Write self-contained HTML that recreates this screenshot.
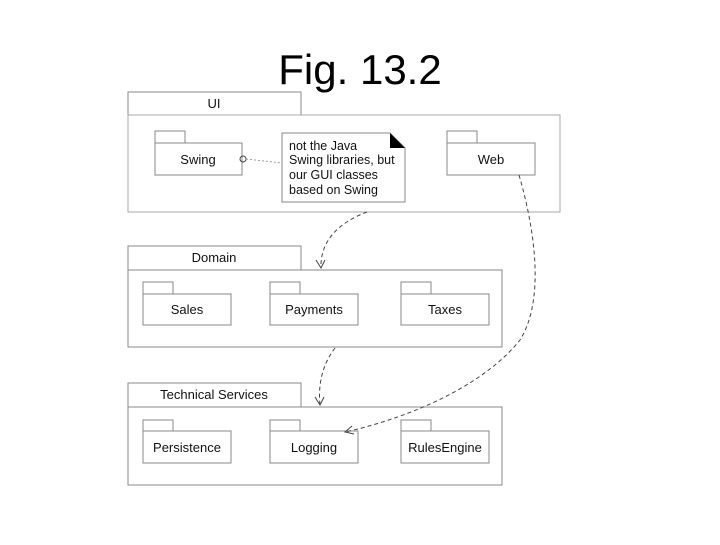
<!DOCTYPE html>
<html><head><style>
body{margin:0;background:#fff;width:720px;height:540px;overflow:hidden}
</style></head><body>
<svg width="720" height="540" xmlns="http://www.w3.org/2000/svg" font-family="Liberation Sans, sans-serif">
<text x="360" y="84" text-anchor="middle" font-size="42">Fig. 13.2</text>
<g fill="#fff" stroke="#888" stroke-width="1">
<!-- UI -->
<rect x="128" y="92" width="173" height="23"/>
<rect x="128" y="115" width="432" height="97" stroke="#aaa"/>
<rect x="155" y="131" width="30" height="12"/><rect x="155" y="143" width="87" height="32"/>
<rect x="447" y="131" width="30" height="12"/><rect x="447" y="143" width="88" height="32"/>
<path d="M282 133 H390 L405 148 V202 H282 Z"/>
<!-- Domain -->
<rect x="128" y="246" width="173" height="24"/>
<rect x="128" y="270" width="374" height="77"/>
<rect x="143" y="282" width="30" height="12"/><rect x="143" y="294" width="88" height="31"/>
<rect x="270" y="282" width="30" height="12"/><rect x="270" y="294" width="88" height="31"/>
<rect x="401" y="282" width="30" height="12"/><rect x="401" y="294" width="88" height="31"/>
<!-- Tech -->
<rect x="128" y="383" width="173" height="24"/>
<rect x="128" y="407" width="374" height="78"/>
<rect x="143" y="420" width="30" height="11"/><rect x="143" y="431" width="88" height="32"/>
<rect x="270" y="420" width="30" height="11"/><rect x="270" y="431" width="88" height="32"/>
<rect x="401" y="420" width="30" height="11"/><rect x="401" y="431" width="88" height="32"/>
</g>
<path d="M390 133 L405 148 H390 Z" fill="#000"/>
<g fill="none" stroke="#444" stroke-width="1" stroke-dasharray="4,3">
<path d="M367 212 C340 222 320 240 321 268"/>
<path d="M335 348 C322 365 318 385 320 405"/>
<path d="M519 175 C535 230 545 300 520 340 C480 390 400 420 345 432"/>
</g>
<g fill="none" stroke="#444" stroke-width="1">
<path d="M316 260 L321 268 L325 260"/>
<path d="M315 397 L320 405 L324 397"/>
<path d="M352 426 L345 432 L354 434"/>
<circle cx="243" cy="159" r="3"/>
</g>
<path d="M246 159 L282 163" stroke="#999" stroke-dasharray="2,2"/>
<g font-size="13" fill="#111" text-anchor="middle">
<text x="214" y="108">UI</text>
<text x="198" y="164">Swing</text>
<text x="491" y="164">Web</text>
<text x="214" y="262">Domain</text>
<text x="187" y="314">Sales</text>
<text x="314" y="314">Payments</text>
<text x="445" y="314">Taxes</text>
<text x="214" y="399">Technical Services</text>
<text x="187" y="452">Persistence</text>
<text x="314" y="452">Logging</text>
<text x="445" y="452">RulesEngine</text>
</g>
<g font-size="12.5" fill="#111">
<text x="289" y="150">not the Java</text>
<text x="289" y="164">Swing libraries, but</text>
<text x="289" y="179">our GUI classes</text>
<text x="289" y="194">based on Swing</text>
</g>
</svg>
</body></html>
